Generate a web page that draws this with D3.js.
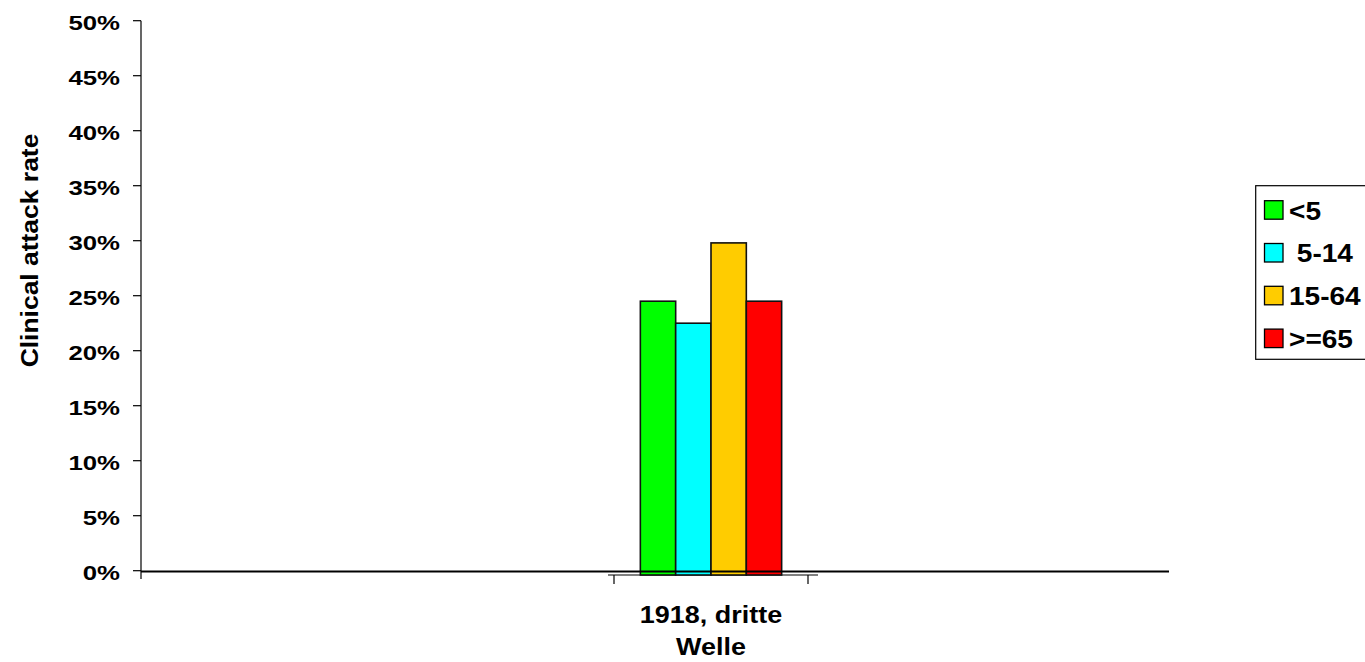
<!DOCTYPE html>
<html>
<head>
<meta charset="utf-8">
<script src="https://cdn.jsdelivr.net/npm/d3@7"></script>
<style>
  html, body { margin: 0; padding: 0; background: #fff; }
  svg { display: block; }
  text { font-family: "Liberation Sans", Arial, sans-serif; font-weight: bold; fill: #000; }
</style>
</head>
<body>
<svg id="chart" width="1365" height="662"></svg>
<script>
// Chart data
const categories = ["1918, dritte Welle"];
const categoryLines = [["1918, dritte", "Welle"]];
const seriesNames = ["<5", " 5-14", "15-64", ">=65"];
const seriesColors = ["#00ff00", "#00ffff", "#ffcc00", "#ff0000"];
const values = [[24.5, 22.5, 29.8, 24.5]]; // clinical attack rate in %, per category, per age group
const yTicks = [0, 5, 10, 15, 20, 25, 30, 35, 40, 45, 50];
const yTickLabels = ["0%", "5%", "10%", "15%", "20%", "25%", "30%", "35%", "40%", "45%", "50%"];
const yTitle = "Clinical attack rate";

const svg = d3.select("#chart");

// Plot geometry
const plotLeft = 141, plotRight = 1169;
const y = d3.scaleLinear().domain([0, 50]).range([570.7, 20.7]);
const x = d3.scaleBand().domain(categories).range([614, 808]);
const xs = d3.scaleBand().domain(seriesNames).range([0, x.bandwidth()])
  .paddingInner(0).paddingOuter(0.746);
const barBase = y(0) + 4.3;

// Helper: horizontally stretched text
function stretchedText(g, str, px, py, size, sx, anchor, rotate) {
  const t = g.append("text")
    .attr("font-size", size)
    .attr("text-anchor", anchor)
    .style("white-space", "pre")
    .text(str);
  const r = rotate ? ` rotate(${rotate})` : "";
  t.attr("transform", `translate(${px},${py})${r} scale(${sx},1)`);
  return t;
}

// Y axis
const yAxis = svg.append("g");
yAxis.append("line")
  .attr("x1", plotLeft).attr("x2", plotLeft)
  .attr("y1", y(50)).attr("y2", y(0) + 8.3)
  .attr("stroke", "#000").attr("stroke-width", 1.2);
yAxis.selectAll("line.tick").data(yTicks).join("line")
  .attr("class", "tick")
  .attr("x1", plotLeft - 8).attr("x2", plotLeft)
  .attr("y1", d => y(d)).attr("y2", d => y(d))
  .attr("stroke", "#000").attr("stroke-width", 1.2);
yTicks.forEach((d, i) => {
  stretchedText(yAxis, yTickLabels[i], 120, y(d) + 9.3, 20.8, 1.24, "end");
});

// Y axis title
stretchedText(svg, yTitle, 37.5, (133 + 368) / 2, 24.5, 1.08, "middle", -90);

// Category axis
const xAxis = svg.append("g");
xAxis.append("line")
  .attr("x1", x.range()[0] - 6).attr("x2", x.range()[1] + 10)
  .attr("y1", barBase).attr("y2", barBase)
  .attr("stroke", "#000").attr("stroke-width", 1);
xAxis.selectAll("line.tick").data(x.range()).join("line")
  .attr("class", "tick")
  .attr("x1", d => d).attr("x2", d => d)
  .attr("y1", barBase).attr("y2", barBase + 9)
  .attr("stroke", "#000").attr("stroke-width", 1.2);
categories.forEach((c, i) => {
  const cx = x(c) + x.bandwidth() / 2;
  categoryLines[i].forEach((line, j) => {
    stretchedText(xAxis, line, cx, 623 + j * 32, 24.5, 1.1, "middle");
  });
});

// Bars
const bars = svg.append("g");
categories.forEach((c, i) => {
  bars.selectAll(null).data(values[i]).join("rect")
    .attr("x", (d, k) => x(c) + xs(seriesNames[k]))
    .attr("width", xs.bandwidth())
    .attr("y", d => y(d))
    .attr("height", d => barBase - y(d))
    .attr("fill", (d, k) => seriesColors[k])
    .attr("stroke", "#111")
    .attr("stroke-width", 1.6);
});

// Zero line across the plot
svg.append("line")
  .attr("x1", plotLeft).attr("x2", plotRight)
  .attr("y1", y(0) + 0.8).attr("y2", y(0) + 0.8)
  .attr("stroke", "#000").attr("stroke-width", 2);

// Legend
const legend = svg.append("g");
legend.append("rect")
  .attr("x", 1255.7).attr("y", 185.7)
  .attr("width", 140).attr("height", 173.6)
  .attr("fill", "#fff").attr("stroke", "#000").attr("stroke-width", 1.2);
seriesNames.forEach((name, k) => {
  const cy = 210 + k * 42.8;
  legend.append("rect")
    .attr("x", 1264.5).attr("y", cy - 9.3)
    .attr("width", 18.5).attr("height", 18.5)
    .attr("fill", seriesColors[k])
    .attr("stroke", "#000").attr("stroke-width", 1.3);
  stretchedText(legend, name, 1289, cy + 9.5, 25.5, 1.1, "start");
});
</script>
</body>
</html>
